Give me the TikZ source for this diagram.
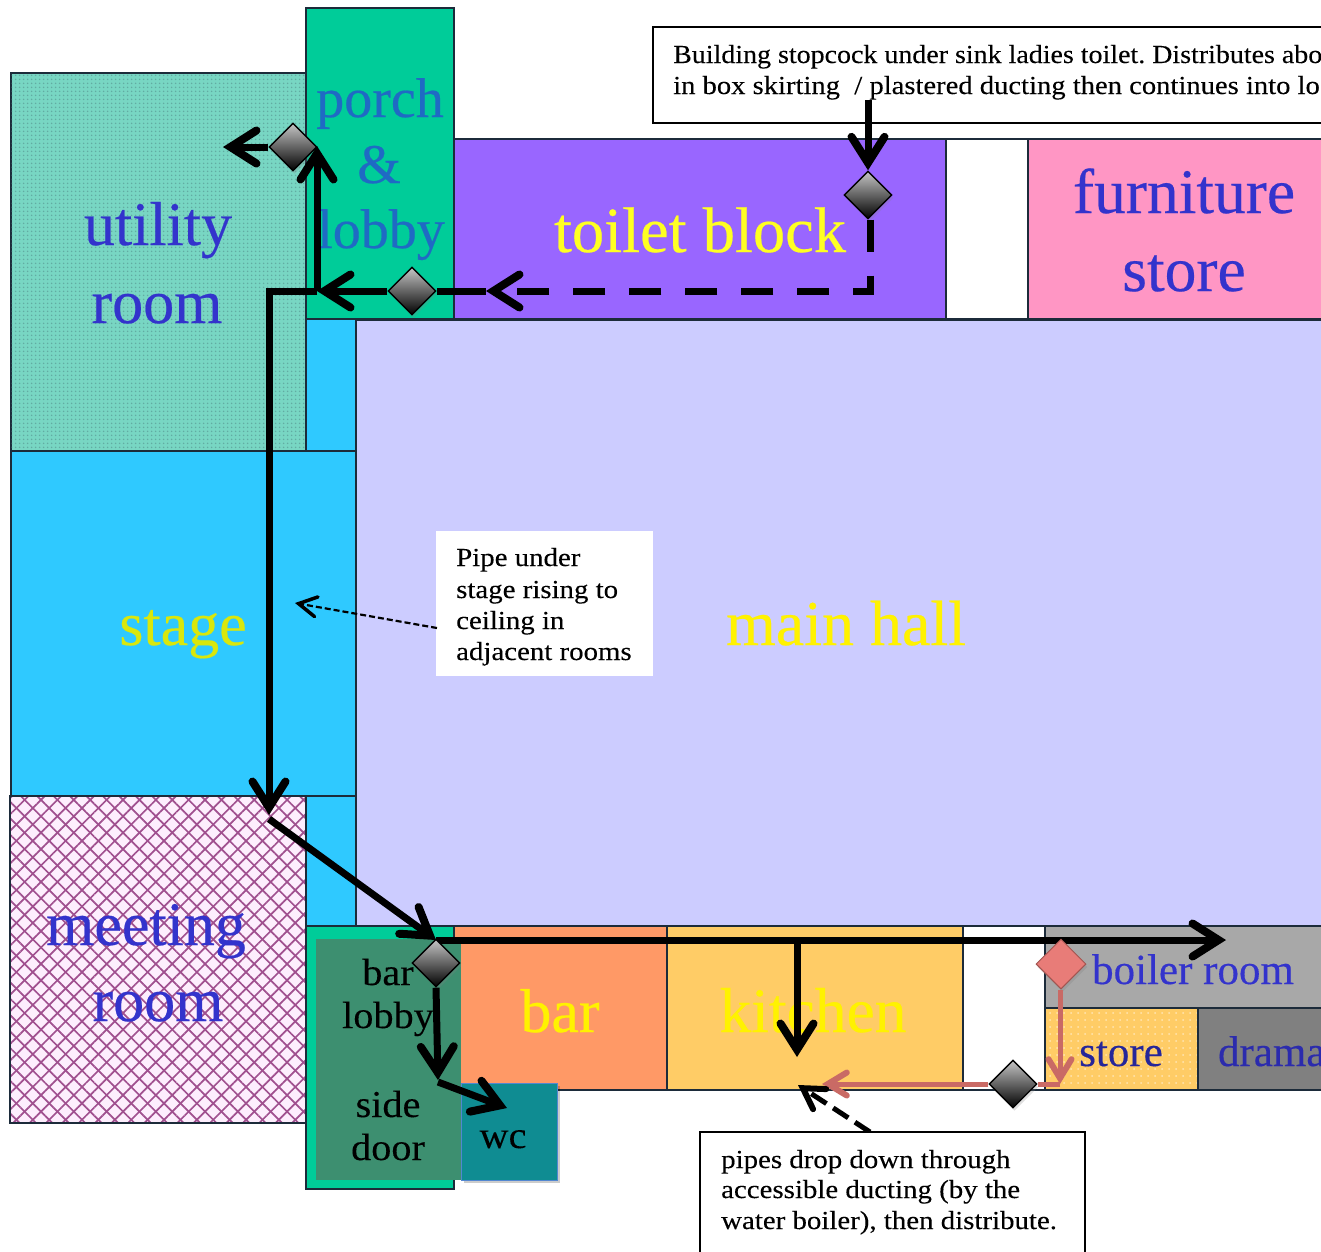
\documentclass[tikz,border=0pt]{standalone}
\usepackage{fontspec}
\setmainfont[FakeBold=0.35]{Liberation Serif}
\newfontfamily\cam[FakeStretch=1.06,FakeBold=0.2]{Liberation Serif}
\newfontfamily\camnote[FakeStretch=1.11,FakeBold=0.15]{Liberation Serif}
\newfontfamily\camtopa[FakeStretch=1.075,FakeBold=0.15]{Liberation Serif}
\newfontfamily\camtopb[FakeStretch=1.10,FakeBold=0.15]{Liberation Serif}
\frenchspacing
\usetikzlibrary{arrows.meta,shapes.geometric,patterns.meta,shadows,shadings}
\definecolor{frameC}{HTML}{1C2B3A}
\definecolor{porchC}{HTML}{00CC99}
\definecolor{utilC}{HTML}{78D6C3}
\definecolor{toiletC}{HTML}{9966FF}
\definecolor{furnC}{HTML}{FF96C4}
\definecolor{stageC}{HTML}{2FC9FF}
\definecolor{hallC}{HTML}{CCCCFF}
\definecolor{meetC}{HTML}{FDEEFD}
\definecolor{hatchC}{HTML}{A0508F}
\definecolor{barC}{HTML}{FF9966}
\definecolor{kitC}{HTML}{FFCC66}
\definecolor{boilC}{HTML}{A8A8A8}
\definecolor{dramaC}{HTML}{808080}
\definecolor{lobbyC}{HTML}{3D8F70}
\definecolor{wcC}{HTML}{0F8C92}
\definecolor{indigoC}{HTML}{3333CC}
\definecolor{porchT}{HTML}{1F6AC4}
\definecolor{yelC}{HTML}{FFFF22}
\definecolor{redC}{HTML}{C96A65}
\definecolor{redD}{HTML}{E87C78}
\tikzset{
  room/.style={draw=frameC,line width=1.3pt},
  lab/.style={inner sep=0pt,outer sep=0pt,anchor=base,align=center},
  big/.style={font=\fontsize{62}{78}\selectfont},
  mid/.style={font=\fontsize{56}{66}\selectfont},
  small/.style={font=\fontsize{43}{43}\selectfont},
  cambig/.style={font=\cam\fontsize{38}{43}\selectfont,text=black},
  note/.style={font=\camnote\fontsize{26}{31}\selectfont,inner sep=0pt,anchor=base west,align=left,text=black},
  notea/.style={note,font=\camtopa\fontsize{26}{31}\selectfont},
  noteb/.style={note,font=\camtopb\fontsize{26}{31}\selectfont},
  notebox/.style={draw=black,line width=2pt,fill=white},
  valve/.style={diamond,draw=black,line width=1.4pt,minimum width=48pt,minimum height=48pt,inner sep=0pt,aspect=1,top color=gray!45,bottom color=black,drop shadow={shadow xshift=1.5pt,shadow yshift=-3pt,opacity=.25}},
  redvalve/.style={diamond,draw=redC!80!black,line width=1pt,minimum width=50pt,minimum height=50pt,inner sep=0pt,aspect=1,fill=redD,drop shadow={shadow xshift=1.5pt,shadow yshift=-3pt,opacity=.25}},
  pipe/.style={draw=black,line width=7pt,-{Straight Barb[length=26pt,width=33pt,line cap=round,line width=8pt]}},
  plainpipe/.style={draw=black,line width=7pt},
  redpipe/.style={draw=redC,line width=5pt,-{Straight Barb[length=19pt,width=23pt,line cap=round,line width=6pt]}},
  redplain/.style={draw=redC,line width=5pt},
  dashpipe/.style={draw=black,line width=7pt,dash pattern=on 32pt off 24pt,-{Straight Barb[length=26pt,width=33pt,line cap=round,line width=8pt]}},
  thindash/.style={draw=black,line width=2.2pt,dash pattern=on 6pt off 3pt,-{Straight Barb[length=18pt,width=20pt,line cap=round,line width=3.5pt]}},
  meddash/.style={draw=black,line width=5pt,dash pattern=on 18pt off 8pt,-{Straight Barb[length=20pt,width=24pt,line cap=round,line width=6pt]}},
}
\begin{document}
\begin{tikzpicture}[x=1pt,y=-1pt]
\path[use as bounding box,clip] (0,0) rectangle (1321,1251);
\fill[white] (0,0) rectangle (1321,1251);
% rooms
\draw[room,fill=utilC] (11,73) rectangle (306,451);
\fill[pattern={Dots[distance=4pt,radius=1pt]},pattern color=frameC!60!utilC,opacity=.4] (11,73) rectangle (306,451);
\draw[room,fill=porchC] (306,8) rectangle (454,319);
\draw[room,fill=toiletC] (454,139) rectangle (946,319);
\draw[room,fill=white] (946,139) rectangle (1028,319);
\draw[room,fill=furnC] (1028,139) rectangle (1340,319);
\draw[room,fill=stageC] (306,319) rectangle (356,451);
\draw[room,fill=stageC] (306,796) rectangle (356,926);
\draw[room,fill=stageC] (11,451) rectangle (356,796);
\draw[room,fill=hallC] (356,320) rectangle (1340,926);
\draw[room,fill=meetC] (10,796) rectangle (306,1123);
\fill[pattern={Lines[angle=45,distance=11.6pt,line width=1.7pt]},pattern color=hatchC] (10,796) rectangle (306,1123);
\fill[pattern={Lines[angle=-45,distance=11.6pt,line width=1.7pt]},pattern color=hatchC] (10,796) rectangle (306,1123);
\draw[room] (10,796) rectangle (306,1123);
\draw[room,fill=barC] (454,926) rectangle (667,1090);
\draw[room,fill=kitC] (667,926) rectangle (963,1090);
\draw[room,fill=white] (963,926) rectangle (1045,1090);
\draw[room,fill=boilC] (1045,926) rectangle (1340,1008);
\draw[room,fill=kitC] (1045,1008) rectangle (1198,1090);
\fill[pattern={Dots[distance=7pt,radius=1pt]},pattern color=white,opacity=.5] (1045,1008) rectangle (1198,1090);
\draw[room] (1045,1008) rectangle (1198,1090);
\draw[room,fill=dramaC] (1198,1008) rectangle (1340,1090);
\draw[room,fill=porchC] (306,926) rectangle (454,1189);
\fill[lobbyC] (316,939) rectangle (461,1180);
\fill[black,opacity=.2] (464,1086) rectangle (560,1183);
\draw[draw=wcC!60!blue!70,line width=1pt,fill=wcC] (461,1083) rectangle (557,1180);
% labels
\node[lab,big,text=indigoC] (utilL) at (158,245) {utility};
\node[lab,big,text=indigoC] (utilL2) at (157,323) {room};
\node[lab,mid,text=porchT] (porchL) at (380,117) {porch};
\node[lab,mid,text=porchT] (porchL2) at (379,183) {\&};
\node[lab,mid,text=porchT] (porchL3) at (381,248) {lobby};
\node[lab,font=\fontsize{64.5}{70}\selectfont,text=yelC] (toiletL) at (700,252) {toilet block};
\node[lab,font=\fontsize{63.5}{70}\selectfont,text=indigoC] (furnL) at (1184,213) {furniture};
\node[lab,font=\fontsize{63.5}{70}\selectfont,text=indigoC] (furnL2) at (1184,291) {store};
\node[lab,big,text=yellow!85!green] (stageL) at (183,645) {stage};
\node[lab,font=\fontsize{64}{70}\selectfont,text=yellow] (hallL) at (846,645) {main hall};
\node[lab,big,text=indigoC] (meetL) at (146,945) {meeting};
\node[lab,big,text=indigoC] (meetL2) at (158,1021) {room};
\node[lab,big,text=yellow] (barL) at (560,1032) {bar};
\node[lab,font=\fontsize{63.5}{70}\selectfont,text=yellow] (kitL) at (813,1032) {kitchen};
\node[lab,small,text=indigoC] (boilL) at (1193,984) {boiler room};
\node[lab,small,text=indigoC!75!black] (storeL) at (1121,1066) {store};
\node[lab,small,text=indigoC!85!black,anchor=base west] (dramaL) at (1218,1066) {drama};
\node[lab,cambig] (lobL) at (388,985) {bar};
\node[lab,cambig] (lobL2) at (388,1028) {lobby};
\node[lab,cambig] (sideL) at (388,1117) {side};
\node[lab,cambig] (sideL2) at (388,1160) {door};
\node[lab,cambig] (wcL) at (503,1148) {wc};
% notes
\draw[notebox] (653,27) rectangle (1340,123);
\node[notea] (topN) at (673,63) {Building stopcock under sink ladies toilet. Distributes abo};
\node[noteb] (topN2) at (673,94) {in box skirting~ / plastered ducting then continues into lo};
\fill[white] (436,531) rectangle (653,676);
\coordinate (pipeNoteTip) at (437,628);
\node[note] (pipeN) at (456,566) {Pipe under};
\node[note] (pipeN2) at (456,598) {stage rising to};
\node[note] (pipeN3) at (456,629) {ceiling in};
\node[note] (pipeN4) at (456,660) {adjacent rooms};
% named junctions and free ends
\coordinate (srcTop) at (868,100);
\coordinate (dashCorner) at (870,291);
\coordinate (dashEnd) at (486,291);
\coordinate (jPorch) at (317,291);
\coordinate (jCorner) at (269,291);
\coordinate (porchUp) at (317,146);
\coordinate (utilEnd) at (223,147);
\coordinate (stageEnd) at (269,815);
\coordinate (diagStart) at (269,819);
\coordinate (jBar) at (436,940);
\coordinate (boilEnd) at (1226,940);
\coordinate (jKit) at (797,940);
\coordinate (kitEnd) at (797,1057);
\coordinate (lobEnd) at (438,1080);
\coordinate (jLob) at (438,1082);
\coordinate (wcEnd) at (507,1108);
\coordinate (jRed) at (1060,1084);
\coordinate (redEnd) at (822,1084);
\coordinate (noteTail) at (870,1132);
\coordinate (noteTip) at (798,1085);
\coordinate (stageTip) at (295,603);
% main pipe under the valves
\draw[pipe] (jBar) -- (boilEnd);
% valves
\node[valve] (vTop) at (868,195) {};
\node[valve] (vLobby) at (412,291) {};
\node[valve] (vUtil) at (293,147) {};
\node[valve] (vBar) at (436,963) {};
\node[valve] (vDuct) at (1013,1084) {};
\node[redvalve] (vRed) at (1061,964) {};
% connectors
\draw[pipe] (srcTop) -- (vTop.north);
\draw[dashpipe] (vTop.south -| dashCorner) -- (dashCorner) -- (dashEnd);
\draw[plainpipe] (dashEnd) -- (vLobby.east);
\draw[pipe] (vLobby.west) -- (jPorch);
\draw[pipe] (jPorch) -- (porchUp);
\draw[pipe] (vUtil.west) -- (utilEnd);
\draw[pipe,line join=miter] (jPorch) -- (jCorner) -- (stageEnd);
\draw[pipe] (diagStart) -- (jBar);
\draw[pipe] (jKit) -- (kitEnd);
\draw[pipe] (vBar.south) -- (lobEnd);
\draw[pipe] (jLob) -- (wcEnd);
\draw[redpipe] (vRed.south -| jRed) -- (jRed);
\draw[redplain] (jRed) -- (vDuct.east);
\draw[redpipe] (vDuct.west) -- (redEnd);
\draw[meddash] (noteTail) -- (noteTip);
\draw[thindash] (pipeNoteTip) -- (stageTip);
% bottom note sits over the tail of its arrow
\draw[notebox] (700,1132) rectangle (1085,1270);
\node[note] (botN) at (721,1168) {pipes drop down through};
\node[note] (botN2) at (721,1198) {accessible ducting (by the};
\node[note] (botN3) at (721,1229) {water boiler), then distribute.};
\end{tikzpicture}
\end{document}
